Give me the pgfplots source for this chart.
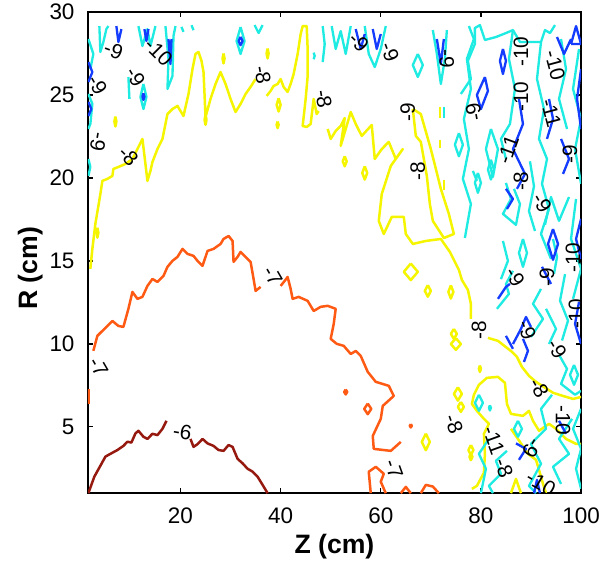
\documentclass[border=0pt]{standalone}
\usepackage{pgfplots}
\pgfplotsset{compat=1.18}
\usepackage{fontspec}
\setmainfont{Liberation Sans}
\definecolor{cdred}{RGB}{150,25,15}
\definecolor{corange}{RGB}{255,90,20}
\definecolor{cyellow}{RGB}{245,245,0}
\definecolor{ccyan}{RGB}{30,235,225}
\definecolor{cblue}{RGB}{20,60,255}
\pgfplotsset{
  dr/.style={color=cdred,line width=1.5pt,line join=round},
  orr/.style={color=corange,line width=1.5pt,line join=round},
  ye/.style={color=cyellow,line width=1.5pt,line join=round},
  cy/.style={color=ccyan,line width=1.4pt,line join=round},
  bl/.style={color=cblue,line width=1.4pt,line join=round},
}
\tikzset{lab/.style={font=\fontsize{12.5}{13}\selectfont,inner sep=0pt,text=black}}
\begin{document}
\begin{tikzpicture}
\useasboundingbox (-52.8pt,-45pt) rectangle (312pt,296.4pt);
\begin{axis}[at={(0,0)}, anchor=south west, scale only axis,
  width=296.4pt, height=289.2pt,
  xmin=1.5, xmax=100, ymin=1, ymax=30,
  xtick={20,40,60,80,100}, ytick={5,10,15,20,25,30},
  tick align=inside, xtick pos=both, ytick pos=both,
  major tick length=3pt,
  axis line style={line width=1pt},
  tick style={black, line width=0.8pt},
  ticklabel style={font=\fontsize{13.5}{15}\selectfont},
  xticklabel style={yshift=-5.5pt},
  yticklabel style={xshift=-4.5pt},
  /pgf/number format/assume math mode=true,
  xlabel={Z (cm)}, ylabel={R (cm)},
  label style={font=\fontsize{16}{18}\selectfont\bfseries},
  xlabel style={at={(axis description cs:0.5,-0.112)}, anchor=center},
  ylabel style={at={(axis description cs:-0.117,0.467)}, anchor=center},
  clip=true,
]
% ---------------- -6 (dark red)
\addplot[dr] coordinates {(1.6,1.0)(2.8,2.0)(4,2.65)(5,3.2)(6,3.37)(7.4,3.6)(8.6,3.85)(9.4,4.1)(10.2,4.05)(11,4.6)(11.6,4.76)(12.6,4.4)(13.4,4.27)(14.4,4.58)(15.4,4.5)(16.4,4.88)(17.2,5.36)};
\addplot[dr] coordinates {(22,4.27)(22.6,3.79)(23.4,3.95)(24.4,4.27)(25.4,4.0)(26.6,3.85)(27.6,3.6)(28.6,3.55)(29.6,3.9)(30.4,3.79)(31.4,3.07)(32.4,2.8)(33.4,2.47)(34.4,2.3)(35.4,1.99)(36.4,1.5)(37.4,1.0)};
% ---------------- -7 (orange)
\addplot[orr] coordinates {(1.6,6.4)(1.6,7.3)};
\addplot[orr] coordinates {(2.6,9.58)(3.4,10.48)(4.8,10.90)(6.4,11.38)(7.6,11.08)(8.6,11.02)(9.6,12.11)(10.4,13.13)(11.4,12.71)(12.4,12.83)(13.4,13.49)(14.4,13.91)(15.4,13.73)(16.6,14.09)(17.4,14.64)(18.4,15.00)(19.4,15.24)(20.4,15.72)(21.4,15.42)(22.6,15.30)(23.4,15.00)(24.4,14.70)(25.0,15.24)(25.4,15.60)(26.6,15.72)(28.0,16.02)(28.6,16.32)(29.6,16.50)(30.4,16.20)(30.6,14.94)(31.4,15.24)(32.0,15.54)(33.0,15.24)(34.0,14.94)(34.6,13.91)(35.0,13.19)(36.0,13.43)};
\addplot[orr] coordinates {(40.0,13.49)(40.8,13.79)(41.4,14.03)(42.0,13.31)(42.4,12.71)(43.6,12.83)(45.4,12.59)(46.6,11.98)(48.0,12.23)(49.4,12.29)(51.0,12.11)(50.6,11.20)(50.0,10.30)(51.2,10.00)(52.6,9.88)(54.0,9.39)(55.0,9.57)(56.0,9.27)(57.4,8.31)(59.0,7.71)(61.6,7.47)(62.6,6.86)(60.4,6.26)(60.0,5.48)(58.4,4.45)(58.6,3.67)(62.0,3.55)(64.0,4.09)};
\addplot[orr] coordinates {(58,1.0)(57.6,2.29)(59,2.59)(60.6,2.17)(60,1.69)(61,1.0)};
\addplot[orr] coordinates {(64,1.0)(65,1.38)(66,1.0)};
\addplot[orr] coordinates {(68,1.0)(69,1.5)(70.4,1.4)(71.6,1.0)};
\addplot[orr] coordinates {(53,7.25)(53.3,7.1)(53,6.95)(52.7,7.1)(53,7.25)};
\addplot[orr] coordinates {(57.4,6.4)(58.1,6.08)(57.4,5.76)(56.7,6.08)(57.4,6.4)};
\addplot[orr] coordinates {(66,5.16)(66.2,5.06)(66,4.96)(65.8,5.06)(66,5.16)};
% ---------------- -8 (yellow)
\addplot[ye] coordinates {(2.0,14.52)(2.4,15.72)(3.0,17.23)(3.6,18.31)(4.0,19.03)(4.4,19.82)(5.4,19.94)(6.4,20.12)(6.6,20.54)(7.6,20.66)(9.0,20.84)(10.4,21.14)(11.4,21.74)(12.4,22.35)(13.0,20.84)(13.4,19.82)(14.0,20.42)(14.4,20.96)(15.4,21.74)(16.4,22.35)(17.0,23.25)(17.4,23.85)(18.4,24.15)(19.4,24.34)(20.0,24.03)(20.6,23.73)(21.6,25.06)(22.4,26.56)(23.0,27.47)(23.6,27.59)(24.2,27.05)(24.6,26.38)(24.8,25.06)(25.0,23.67)(26.0,24.76)(27.0,25.66)(28.0,26.38)(29.0,25.66)(30.0,24.76)(31.0,23.97)(32.0,24.46)(33.0,25.06)(34.0,25.48)(35.0,25.96)};
\addplot[ye] coordinates {(37.2,24.94)(38.0,25.24)(38.6,25.54)(39.4,25.66)(40.0,25.96)(40.6,25.48)(41.4,25.18)(42.0,25.66)(42.6,26.26)(43.4,27.47)(44.0,28.67)(44.4,29.15)(45.2,29.15)(45.4,27.77)(45.4,26.14)(45.0,24.76)(44.4,23.13)(45.2,23.07)(46.0,23.25)(46.6,24.76)(47.2,23.85)(47.6,24.03)};
\addplot[ye] coordinates {(49.4,22.95)(50.0,22.35)(51.0,22.83)(52.0,23.13)(52.8,23.61)(52.0,21.93)(54.0,23.97)(55.0,23.25)(56.2,22.53)(58.2,23.19)(58.8,21.14)(60.2,21.74)(61.6,22.17)(63.0,21.14)(64.4,21.74)(62.0,20.72)(60.2,19.03)(59.6,17.41)(60.6,16.62)(62.2,17.65)(64.6,17.65)(65.0,16.62)(66.4,16.02)(69.0,16.20)(72.0,16.32)(73.8,15.54)(74.2,15.30)(75.6,14.46)(76.2,13.85)(77.4,13.25)(78.0,12.41)(78.0,11.50)};
\addplot[ye] coordinates {(81.4,10.36)(83.4,10.18)(86.2,9.52)(87.2,9.21)(88.2,8.61)(89.6,8.07)(91.0,7.71)(94.4,7.05)(96.4,6.86)(98.4,6.68)(100,6.80)};
\addplot[ye] coordinates {(66.4,24.15)(67.0,22.53)(68.0,22.17)(69.2,20.12)(69.8,18.43)(70.4,17.41)(72.6,16.38)(74.6,16.62)(73.6,17.83)(72,19.34)(70,21.74)(68,23.85)(66.4,24.15)};
\addplot[ye] coordinates {(78.2,1.26)(79.2,1.44)(80.6,2.23)(80.8,3.37)(80.6,4.58)(81.6,5.18)(80.6,5.48)(79.2,5.96)(78.2,6.38)(78.6,6.93)(79.6,7.53)(81.2,7.95)(83.4,8.01)(84.8,7.65)(85.2,6.38)(86.0,5.78)(88.4,5.66)(89.6,5.96)(90.4,5.36)(91.6,4.76)(93.6,5.18)(95.0,4.88)(97.0,4.27)(99.0,3.97)(100,3.97)};
\addplot[ye] coordinates {(86,4.88)(87.8,4.09)(89.4,3.37)(91,3.01)(91.6,2.41)(92.4,1.56)(93,1.0)};
\addplot[ye] coordinates {(86,1.0)(87,1.86)(88,1.0)};
% small yellow rings and dots
\addplot[ye] coordinates {(66,14.84)(67.4,14.34)(66,13.84)(64.6,14.34)(66,14.84)};
\addplot[ye] coordinates {(69.4,13.54)(70,13.19)(69.4,12.84)(68.8,13.19)(69.4,13.54)};
\addplot[ye] coordinates {(74,13.53)(74.5,13.13)(74,12.73)(73.5,13.13)(74,13.53)};
\addplot[ye] coordinates {(75,10.34)(76,9.99)(75,9.64)(74,9.99)(75,10.34)};
\addplot[ye] coordinates {(75.4,7.38)(76.2,6.98)(75.4,6.58)(74.6,6.98)(75.4,7.38)};
\addplot[ye] coordinates {(69,4.59)(69.8,4.09)(69,3.59)(68.2,4.09)(69,4.59)};
\addplot[ye] coordinates {(78,3.39)(78.3,3.19)(78,2.99)(77.7,3.19)(78,3.39)};
\addplot[ye] coordinates {(76,6.5)(76.6,6.2)(76,5.9)(75.4,6.2)(76,6.5)};
\addplot[ye] coordinates {(74.6,10.9)(75.2,10.6)(74.6,10.3)(74,10.6)(74.6,10.9)};
\addplot[ye] coordinates {(78,3.9)(78.5,3.6)(78,3.3)(77.5,3.6)(78,3.9)};
\addplot[ye] coordinates {(79.8,8.7)(80,8.5)(79.8,8.3)(79.6,8.5)(79.8,8.7)};
\addplot[ye] coordinates {(71.8,24.3)(71.8,23.6)};
\addplot[ye] coordinates {(71.8,22.3)(71.8,21.8)};
\addplot[ye] coordinates {(72.6,19.9)(72.6,19.3)};
\addplot[ye] coordinates {(52.8,21.3)(53.2,21.0)(52.8,20.7)(52.4,21.0)(52.8,21.3)};
\addplot[ye] coordinates {(56.8,20.7)(57.3,20.3)(56.8,19.9)(56.3,20.3)(56.8,20.7)};
\addplot[ye] coordinates {(7.0,23.7)(7.2,23.4)(7.0,23.1)(6.8,23.4)(7.0,23.7)};
\addplot[ye] coordinates {(25,23.8)(25.2,23.5)(25,23.2)(24.8,23.5)(25,23.8)};
\addplot[ye] coordinates {(28.6,27.5)(28.8,27.2)(28.6,26.9)(28.4,27.2)(28.6,27.5)};
\addplot[ye] coordinates {(39.6,24.8)(40,24.4)(39.6,24.0)(39.2,24.4)(39.6,24.8)};
\addplot[ye] coordinates {(39.4,23.4)(39.6,23.2)(39.4,23.0)(39.2,23.2)(39.4,23.4)};
\addplot[ye] coordinates {(37.4,27.8)(37.6,27.5)(37.4,27.2)(37.2,27.5)(37.4,27.8)};
\addplot[ye] coordinates {(3.4,17.0)(3.6,16.7)(3.4,16.4)(3.2,16.7)(3.4,17.0)};
% ---------------- -9 (cyan)
\addplot[cy] coordinates {(3.8,29.15)(4.0,27.59)(4.6,28.19)(5.2,28.97)(5.6,29.15)};
\addplot[cy] coordinates {(11.6,29.15)(12.4,27.95)(13.4,28.97)(14.0,27.95)(15.0,29.15)};
\addplot[cy] coordinates {(17.0,29.15)(17.6,27.17)(17.4,25.36)(18.4,26.14)(18.6,28.55)(19.0,29.15)};
\addplot[cy] coordinates {(12.6,25.66)(13.2,24.88)(12.6,24.15)(12.0,24.88)(12.6,25.66)};
\addplot[cy] coordinates {(9.6,26.08)(9.8,24.76)};
\addplot[cy] coordinates {(1.6,21.14)(2.0,20.66)(1.6,20.12)};
\addplot[cy] coordinates {(1.6,25.06)(2.4,24.46)(2.0,23.25)(1.6,22.95)};
\addplot[cy] coordinates {(1.6,28.37)(2.6,27.47)(2.0,26.56)};
\addplot[cy] coordinates {(20.2,29.1)(20.6,28.8)};
\addplot[cy] coordinates {(22.2,29.2)(22.6,28.9)};
\addplot[cy] coordinates {(32,29.09)(32.8,28.25)(32,27.47)(31.2,28.25)(32,29.09)};
\addplot[cy] coordinates {(34.8,29.21)(35.6,28.73)(36.4,29.21)};
\addplot[cy] coordinates {(48.4,29.15)(48.8,28.07)(48.4,26.98)};
\addplot[cy] coordinates {(46.6,27.55)(46.8,27.35)(46.6,27.15)};
\addplot[cy] coordinates {(50.2,29.15)(51.0,27.77)(52.0,28.85)(53.0,27.47)(54.0,29.15)};
\addplot[cy] coordinates {(56.8,29.15)(57.6,27.47)(58.8,26.68)(60,27.77)(61,29.15)};
\addplot[cy] coordinates {(67.4,27.47)(68.4,26.8)(67.4,26.08)(66.4,26.8)(67.4,27.47)};
\addplot[cy] coordinates {(70.4,28.91)(71.2,27.47)(72,25.66)(72.8,27.17)(73.2,28.91)};
\addplot[cy] coordinates {(77.6,29.15)(78.6,28.37)(77.2,27.17)(78,25.36)(76.6,23.55)(77.6,21.74)(76.4,19.94)(78,18.43)(76.8,16.38)};
\addplot[cy] coordinates {(75.6,22.7)(76.4,22.0)(75.6,21.3)(74.8,22.0)(75.6,22.7)};
\addplot[cy] coordinates {(79.4,20.3)(80,19.7)(79.4,19.1)(78.8,19.7)(79.4,20.3)};
\addplot[cy] coordinates {(82,21.1)(82.6,20.5)(82,19.9)(81.4,20.5)(82,21.1)};
\addplot[cy] coordinates {(72.6,24.3)(72.6,23.6)};
\addplot[cy] coordinates {(76,25.06)(78,25.96)(77.4,27.05)(78.8,28.07)(78.8,29.03)(79.8,29.21)(80.8,28.31)(83,28.49)(85,28.73)(86.4,28.91)(87.8,28.19)(90,28.19)(92,28.19)(92.8,28.91)(93.8,28.73)(94.8,29.21)};
\addplot[cy] coordinates {(92,28.19)(91.2,25.96)(92.6,24.15)(91.6,22.35)(93.2,21.14)(92.2,19.64)(93.6,18.13)(92,16.62)(94,15.12)};
\addplot[cy] coordinates {(86.4,28.91)(85.6,27.17)(86.8,25.36)(85.8,23.25)(84,22.35)(85,21.14)};
\addplot[cy] coordinates {(82,22.95)(81,21.74)(82.4,20.06)(83.4,21.74)(82,22.95)};
\addplot[cy] coordinates {(99.6,27.77)(98.4,25.36)(100,23.55)(98.8,21.74)(100,19.64)};
\addplot[cy] coordinates {(96,28.37)(97,26.56)(95.6,24.76)(97.2,22.95)};
\addplot[cy] coordinates {(78.4,20.42)(79.2,19.82)};
\addplot[cy] coordinates {(85,19.7)(86,18.73)(84.4,17.83)(87,17.17)(87.8,18.43)(86.6,19.34)};
\addplot[cy] coordinates {(92.8,17.17)(94,18.85)(95.6,17.41)(97.6,18.85)};
\addplot[cy] coordinates {(94.4,16.32)(95.2,15.24)(94.6,14.21)};
\addplot[cy] coordinates {(88.4,16.32)(89.2,15.48)(88.4,14.64)(87.6,15.48)(88.4,16.32)};
\addplot[cy] coordinates {(86.4,14.4)(85,13.61)(85.6,13.01)(83.2,12.11)};
\addplot[cy] coordinates {(92,13.31)(90.4,12.41)(92.4,11.5)(90,10.42)};
\addplot[cy] coordinates {(99,18.73)(98,16.32)(100,14.52)(98.4,12.71)};
\addplot[cy] coordinates {(95.6,9.34)(97.2,8.49)(96,7.59)(98.8,6.93)(100,7.17)};
\addplot[cy] coordinates {(98.6,8.73)(99.4,8.13)(98.6,7.53)(97.8,8.13)(98.6,8.73)};
\addplot[cy] coordinates {(79.6,6.93)(80.4,6.44)(79.6,5.96)(78.8,6.44)(79.6,6.93)};
\addplot[cy] coordinates {(81.8,6.3)(82,6.14)(81.8,5.98)(81.6,6.14)(81.8,6.3)};
\addplot[cy] coordinates {(94.2,6.93)(92,6.08)(93,4.88)(90,3.97)(92,2.77)(89.6,1.44)(91,1.0)};
\addplot[cy] coordinates {(85.2,3.55)(83,2.95)(84,2.17)(81.6,1.44)(82.4,1.0)};
\addplot[cy] coordinates {(98.2,5.48)(95.6,4.27)(97.6,3.37)(94.4,2.59)(96,1.56)};
\addplot[cy] coordinates {(87.4,5.36)(88.2,4.88)(87.4,4.4)(86.6,4.88)(87.4,5.36)};
\addplot[cy] coordinates {(80,1.0)(81,2.47)(79.6,3.37)(81.6,4.27)};
\addplot[cy] coordinates {(93,12.11)(95,10.9)(93.6,9.99)};
\addplot[cy] coordinates {(100,6.08)(98.4,4.88)(100,3.67)(99,2.47)(100,1.26)};
\addplot[cy] coordinates {(84.4,16.2)(85.4,15.0)(84,13.9)};
\addplot[cy] coordinates {(89.8,21.0)(90.6,19.5)(89.6,18.0)(90.8,16.8)};
\addplot[cy] coordinates {(96.8,14.2)(95.8,12.6)(97.4,11.4)(96.2,10.2)};
% ---------------- -10 (blue)
\addplot[bl] coordinates {(7.2,29.15)(7.6,28.19)(8.2,28.97)};
\addplot[bl] coordinates {(12.8,28.97)(13.2,28.25)(13.6,28.97)};
\addplot[bl] coordinates {(17.6,28.37)(18.0,26.86)(18.2,28.37)};
\addplot[bl] coordinates {(12.6,25.1)(12.8,24.9)(12.6,24.7)(12.4,24.9)(12.6,25.1)};
\addplot[bl] coordinates {(1.6,26.98)(2.4,26.38)(1.6,25.78)};
\addplot[bl] coordinates {(1.6,24.58)(2.2,24.15)(1.6,23.73)};
\addplot[bl] coordinates {(32,28.5)(32.4,28.25)(32,28.0)(31.6,28.25)(32,28.5)};
\addplot[bl] coordinates {(55,28.97)(56,27.77)(56.8,28.67)};
\addplot[bl] coordinates {(58.4,28.97)(59.2,27.77)(60,28.67)};
\addplot[bl] coordinates {(71.2,28.37)(72,26.86)(72.6,28.37)};
\addplot[bl] coordinates {(84.4,27.77)(85,27.05)(84.4,26.26)(83.8,27.05)(84.4,27.77)};
\addplot[bl] coordinates {(80.8,26.08)(81.4,25.24)(80,24.15)(79.2,25.0)(80.8,26.08)};
\addplot[bl] coordinates {(98,28.07)(99,29.15)(100,28.07)(98,28.07)};
\addplot[bl] coordinates {(95.2,28.49)(96.6,27.47)(98,28.37)};
\addplot[bl] coordinates {(87.6,24.76)(88.4,23.25)(86.4,21.74)(88.8,20.24)(87.2,19.34)};
\addplot[bl] coordinates {(93.6,24.76)(94.4,23.55)(93.2,22.35)};
\addplot[bl] coordinates {(100,26.56)(99.2,24.76)(100,22.95)};
\addplot[bl] coordinates {(85,19.34)(86.4,18.73)(85.2,18.13)};
\addplot[bl] coordinates {(94.4,16.92)(95.4,16.02)(94.4,15.06)(93.4,16.02)(94.4,16.92)};
\addplot[bl] coordinates {(92.2,14.64)(94,13.61)};
\addplot[bl] coordinates {(83.4,12.71)(85,13.43)(85.8,13.61)};
\addplot[bl] coordinates {(86.4,9.99)(88,10.9)(89,11.62)(90,11.02)};
\addplot[bl] coordinates {(99.6,12.53)(98.8,11.2)(100,9.99)};
\addplot[bl] coordinates {(87,4.0)(89,3.67)(87.6,3.01)};
\addplot[bl] coordinates {(88.4,10.3)(89.4,9.58)(88.6,8.91)};
\addplot[bl] coordinates {(95.6,5.36)(97,4.58)};
\addplot[bl] coordinates {(85,10.48)(86.4,9.7)};
\addplot[bl] coordinates {(100,17.53)(99,16.32)(100,15.12)};
\addplot[bl] coordinates {(96,22.35)(97.6,21.14)(96.4,20.24)};
\addplot[bl] coordinates {(90.6,1.0)(91.2,1.8)(91.8,1.0)};
% ---------------- contour labels
\node[lab,rotate=-10] at (axis cs:20.4,4.7) {-6};
\node[lab,rotate=-60] at (axis cs:38.4,14.09) {-7};
\node[lab,rotate=-60] at (axis cs:3.6,8.6) {-7};
\node[lab,rotate=-70] at (axis cs:62.6,2.47) {-7};
\node[lab,rotate=-80] at (axis cs:36.4,26.2) {-8};
\node[lab,rotate=-80] at (axis cs:48.6,24.76) {-8};
\node[lab,rotate=90] at (axis cs:67.4,20.42) {-8};
\node[lab,rotate=90] at (axis cs:79.6,10.8) {-8};
\node[lab,rotate=-45] at (axis cs:9.6,21.3) {-8};
\node[lab,rotate=-20] at (axis cs:6.6,27.7) {-9};
\node[lab,rotate=-60] at (axis cs:11,26.1) {-9};
\node[lab,rotate=-45] at (axis cs:15.6,27.6) {-10};
\node[lab,rotate=-60] at (axis cs:3.4,25.6) {-9};
\node[lab,rotate=-100] at (axis cs:3.6,22.17) {-9};
\node[lab,rotate=-45] at (axis cs:55.6,28.2) {-9};
\node[lab,rotate=-70] at (axis cs:61.8,27.6) {-9};
\node[lab,rotate=-90] at (axis cs:73.2,27.17) {-9};
\node[lab,rotate=90] at (axis cs:65.4,23.97) {-9};
\node[lab,rotate=100] at (axis cs:78.6,23.97) {-9};
\node[lab,rotate=90] at (axis cs:88.0,27.6) {-10};
\node[lab,rotate=90] at (axis cs:88.0,24.9) {-10};
\node[lab,rotate=70] at (axis cs:85.4,21.7) {-11};
\node[lab,rotate=-75] at (axis cs:94.8,26.8) {-10};
\node[lab,rotate=-75] at (axis cs:94.0,23.9) {-11};
\node[lab,rotate=90] at (axis cs:97.8,21.4) {-9};
\node[lab,rotate=90] at (axis cs:88,19.8) {-8};
\node[lab,rotate=-60] at (axis cs:92.2,18.5) {-9};
\node[lab,rotate=90] at (axis cs:98.4,15.2) {-10};
\node[lab,rotate=-60] at (axis cs:86.8,14.03) {-9};
\node[lab,rotate=90] at (axis cs:93.2,14.03) {-9};
\node[lab,rotate=90] at (axis cs:99,11.8) {-10};
\node[lab,rotate=-70] at (axis cs:89.2,10.84) {-9};
\node[lab,rotate=-60] at (axis cs:95.2,9.7) {-9};
\node[lab,rotate=-60] at (axis cs:91.6,7.35) {-8};
\node[lab,rotate=-70] at (axis cs:74.6,5.18) {-8};
\node[lab,rotate=-70] at (axis cs:83.4,3.5) {-11 -8};
\node[lab,rotate=-90] at (axis cs:96.4,5.4) {-10};
\node[lab,rotate=-120] at (axis cs:90.2,3.7) {-9};
\node[lab,rotate=-30] at (axis cs:92.0,1.6) {-10};
\end{axis}
\end{tikzpicture}
\end{document}
